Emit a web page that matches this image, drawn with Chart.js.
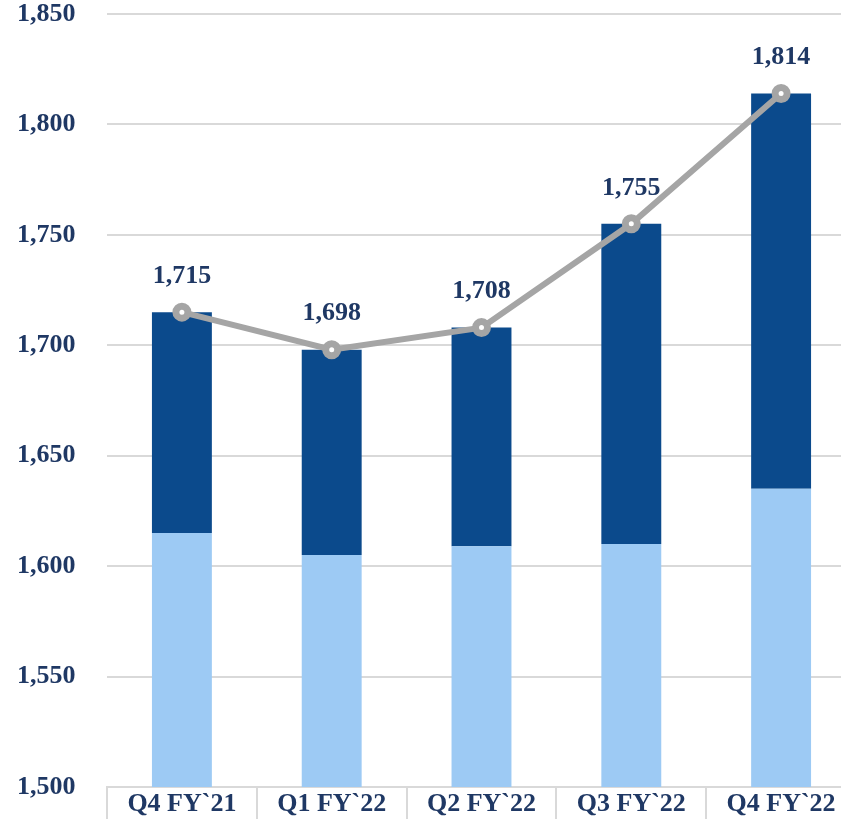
<!DOCTYPE html>
<html>
<head>
<meta charset="utf-8">
<script src="https://cdn.jsdelivr.net/npm/chart.js@4"></script>
<style>
  html, body { margin: 0; padding: 0; background: #fff; overflow: hidden; }
  #wrap { width: 869px; height: 819px; }
</style>
</head>
<body>
<div id="wrap"><canvas id="chart"></canvas></div>
<script>
const categories = ['Q4 FY`21', 'Q1 FY`22', 'Q2 FY`22', 'Q3 FY`22', 'Q4 FY`22'];
const baseValues = [1615, 1605, 1609, 1610, 1635];
const totals = [1715, 1698, 1708, 1755, 1814];
const topValues = totals.map((t, i) => t - baseValues[i]);

const navy = '#1f3864';
const font = { family: '"Liberation Serif", serif', size: 26, weight: 'bold', lineHeight: 1 };

const totalLabels = {
  id: 'totalLabels',
  afterDatasetsDraw(chart) {
    const ctx = chart.ctx;
    const meta = chart.getDatasetMeta(0);
    ctx.save();
    ctx.font = 'bold 26px "Liberation Serif", serif';
    ctx.fillStyle = navy;
    ctx.textAlign = 'center';
    ctx.textBaseline = 'middle';
    meta.data.forEach((pt, i) => {
      ctx.fillText(totals[i].toLocaleString('en-US'), pt.x, pt.y - 36);
    });
    ctx.restore();
  }
};

new Chart(document.getElementById('chart'), {
  data: {
    labels: categories,
    datasets: [
      {
        type: 'line',
        data: totals,
        borderColor: '#a5a5a5',
        borderWidth: 6,
        pointRadius: 6,
        pointBorderWidth: 7,
        pointBackgroundColor: '#ffffff',
        pointBorderColor: '#a5a5a5',
        stack: 'line',
        order: 0
      },
      {
        type: 'bar',
        data: baseValues,
        backgroundColor: '#9dcaf4',
        stack: 'bars',
        order: 1
      },
      {
        type: 'bar',
        data: topValues,
        backgroundColor: '#0b4a8c',
        stack: 'bars',
        order: 1
      }
    ]
  },
  options: {
    responsive: true,
    maintainAspectRatio: false,
    animation: false,
    layout: { padding: { top: 14, right: 0, left: 17, bottom: 0 } },
    plugins: { legend: { display: false }, tooltip: { enabled: false } },
    datasets: { bar: { barPercentage: 0.4, categoryPercentage: 1 } },
    scales: {
      x: {
        stacked: true,
        offset: true,
        grid: { offset: true, drawOnChartArea: false, color: '#d9d9d9', lineWidth: 2, tickLength: 40 },
        border: { color: '#d9d9d9', width: 2 },
        ticks: { color: navy, font: font, padding: -36, maxRotation: 0, autoSkip: false },
        afterFit: s => { s.height = 32; }
      },
      y: {
        stacked: true,
        min: 1500,
        max: 1850,
        ticks: {
          stepSize: 50,
          color: navy,
          font: font,
          padding: 0,
          crossAlign: 'far',
          callback: v => v.toLocaleString('en-US')
        },
        grid: { color: '#d9d9d9', lineWidth: 2, drawTicks: false },
        border: { display: false },
        afterFit: s => { s.width = 90; }
      }
    }
  },
  plugins: [totalLabels]
});
</script>
</body>
</html>
